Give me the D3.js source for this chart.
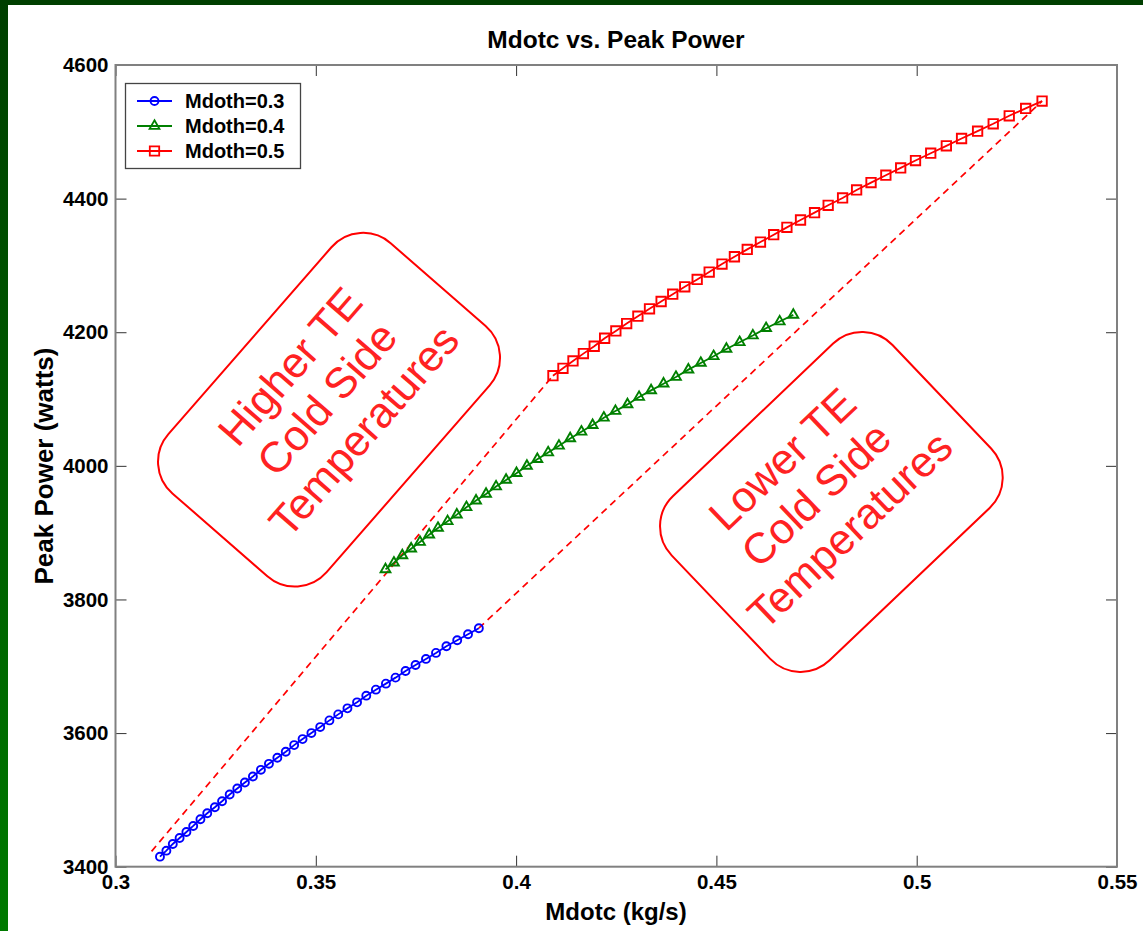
<!DOCTYPE html>
<html><head><meta charset="utf-8">
<script src="https://cdn.jsdelivr.net/npm/d3@7"></script>
<style>html,body{margin:0;padding:0;background:#fff;overflow:hidden;} svg{display:block;}</style>
</head><body>
<svg id="c" width="1143" height="931"></svg>
<script>
// ---------- data ----------
const seriesNames = ["Mdoth=0.3", "Mdoth=0.4", "Mdoth=0.5"];
const seriesColors = ["#0000ff", "#008000", "#ff0000"];

const mdotc03 = [0.3111,0.3127,0.3143,0.3160,0.3177,0.3194,0.3212,0.3229,0.3248,0.3266,0.3285,0.3304,0.3323,0.3343,0.3363,0.3383,0.3404,0.3425,0.3446,0.3467,0.3489,0.3511,0.3534,0.3556,0.3579,0.3603,0.3626,0.3650,0.3675,0.3699,0.3724,0.3749,0.3775,0.3800,0.3826,0.3853,0.3880,0.3907];
const power03 = [3415,3424,3434,3443,3452,3461,3471,3480,3489,3498,3508,3517,3526,3535,3545,3554,3563,3572,3582,3591,3600,3609,3619,3628,3637,3646,3656,3665,3674,3683,3693,3702,3711,3720,3730,3739,3748,3757];

const mdotc04 = [0.3674,0.3695,0.3716,0.3738,0.3760,0.3783,0.3805,0.3829,0.3852,0.3876,0.3900,0.3925,0.3950,0.3975,0.4001,0.4027,0.4053,0.4080,0.4107,0.4135,0.4163,0.4191,0.4219,0.4248,0.4278,0.4307,0.4337,0.4368,0.4399,0.4430,0.4461,0.4493,0.4525,0.4558,0.4591,0.4624,0.4658,0.4692];
const power04 = [3845,3855,3866,3876,3886,3897,3907,3917,3927,3938,3948,3958,3969,3979,3989,4000,4010,4020,4030,4041,4051,4061,4072,4082,4092,4103,4113,4123,4133,4144,4154,4164,4175,4185,4195,4206,4216,4226];

const mdotc05 = [0.4092,0.4117,0.4142,0.4168,0.4195,0.4221,0.4249,0.4276,0.4304,0.4333,0.4362,0.4391,0.4421,0.4452,0.4482,0.4514,0.4545,0.4577,0.4610,0.4643,0.4676,0.4710,0.4745,0.4779,0.4815,0.4850,0.4886,0.4923,0.4960,0.4997,0.5035,0.5074,0.5112,0.5152,0.5191,0.5231,0.5272,0.5313];
const power05 = [4135,4146,4157,4168,4179,4191,4202,4213,4224,4235,4246,4257,4268,4279,4290,4302,4313,4324,4335,4346,4357,4368,4379,4390,4401,4413,4424,4435,4446,4457,4468,4479,4490,4501,4512,4524,4535,4546];

// dashed boundary lines
const dashLeftX = [0.3090, 0.4092];
const dashLeftY = [3423, 4135];
const dashRightX = [0.3907, 0.5313];
const dashRightY = [3757, 4546];

const xTickVals = [0.3, 0.35, 0.4, 0.45, 0.5, 0.55];
const xTickLabels = ["0.3", "0.35", "0.4", "0.45", "0.5", "0.55"];
const yTickVals = [3400, 3600, 3800, 4000, 4200, 4400, 4600];
const yTickLabels = ["3400", "3600", "3800", "4000", "4200", "4400", "4600"];

const annLines = [["Higher TE", "Cold Side", "Temperatures"], ["Lower TE", "Cold Side", "Temperatures"]];
const annCenterX = [0.3533, 0.4787];
const annCenterY = [4084, 3946];

const titleText = "Mdotc vs. Peak Power";
const xLabelText = "Mdotc (kg/s)";
const yLabelText = "Peak Power (watts)";

// ---------- drawing ----------
const W = 1143, H = 931;
const svg = d3.select("#c");
const FONT = "Arial, 'Liberation Sans', Helvetica, sans-serif";

// background frame
const defs = svg.append("defs");
const grad = defs.append("linearGradient").attr("id", "gstrip").attr("x1", 0).attr("y1", 0).attr("x2", 0).attr("y2", 1);
grad.append("stop").attr("offset", "0%").attr("stop-color", "#003f00");
grad.append("stop").attr("offset", "100%").attr("stop-color", "#007a00");
svg.append("rect").attr("x", 0).attr("y", 0).attr("width", W).attr("height", H).attr("fill", "#ffffff");
svg.append("rect").attr("x", 0).attr("y", 0).attr("width", W).attr("height", 5).attr("fill", "#003f00");
svg.append("rect").attr("x", 0).attr("y", 0).attr("width", 8).attr("height", H).attr("fill", "url(#gstrip)");

const L = 115.5, R = 1117, T = 65, B = 866.7;
const x = d3.scaleLinear().domain([0.3, 0.55]).range([L, R]);
const y = d3.scaleLinear().domain([3400, 4600]).range([B, T]);

// axes (ticks inward on all four sides)
function styleAxis(g, showLabels) {
  g.select(".domain").remove();
  g.selectAll(".tick line").attr("stroke", "#333").attr("stroke-width", 1);
  g.selectAll(".tick text").attr("fill", "#000").attr("font-family", FONT)
    .attr("font-weight", "bold").attr("font-size", 20.5);
  if (!showLabels) g.selectAll(".tick text").remove();
}
const TS = 11;
svg.append("g").attr("transform", `translate(0,${B})`)
  .call(d3.axisBottom(x).tickValues(xTickVals).tickSize(-TS).tickPadding(8).tickFormat((d, i) => xTickLabels[i]))
  .call(g => styleAxis(g, true));
svg.append("g").attr("transform", `translate(0,${T})`)
  .call(d3.axisTop(x).tickValues(xTickVals).tickSize(-TS).tickFormat(""))
  .call(g => styleAxis(g, false));
svg.append("g").attr("transform", `translate(${L},0)`)
  .call(d3.axisLeft(y).tickValues(yTickVals).tickSize(-TS).tickPadding(7).tickFormat((d, i) => yTickLabels[i]))
  .call(g => styleAxis(g, true));
svg.append("g").attr("transform", `translate(${R},0)`)
  .call(d3.axisRight(y).tickValues(yTickVals).tickSize(-TS).tickFormat(""))
  .call(g => styleAxis(g, false));

// frame
svg.append("rect").attr("x", L).attr("y", T).attr("width", R - L).attr("height", B - T)
  .attr("fill", "none").attr("stroke", "#808080").attr("stroke-width", 2);

// annotations
annLines.forEach((lines, k) => {
  const cfg = k === 0 ? {w: 332, h: 210, rot: -48.9, tx: 7, ty: -9} : {w: 305, h: 227, rot: -43.6, tx: -6, ty: -16};
  const g = svg.append("g").attr("transform", `translate(${x(annCenterX[k])},${y(annCenterY[k])}) rotate(${cfg.rot})`);
  g.append("rect").attr("x", -cfg.w / 2).attr("y", -cfg.h / 2).attr("width", cfg.w).attr("height", cfg.h)
    .attr("rx", 42).attr("ry", 42).attr("fill", "none").attr("stroke", "#ff0000").attr("stroke-width", 2);
  g.selectAll("text.ann").data(lines).join("text").attr("class", "ann")
    .attr("x", cfg.tx).attr("y", (d, i) => cfg.ty + (i - 1) * 49)
    .attr("text-anchor", "middle").attr("dominant-baseline", "central")
    .attr("font-family", FONT).attr("font-size", 43).attr("fill", "#f22")
    .text(d => d);
});

// dashed lines
const line = d3.line().x(d => x(d[0])).y(d => y(d[1]));
[[dashLeftX, dashLeftY], [dashRightX, dashRightY]].forEach(([xs, ys]) => {
  svg.append("path").attr("d", line(xs.map((v, i) => [v, ys[i]])))
    .attr("fill", "none").attr("stroke", "#ff0000").attr("stroke-width", 1.7).attr("stroke-dasharray", "7,5");
});

// series
const series = [[mdotc03, power03], [mdotc04, power04], [mdotc05, power05]];
const symbols = [d3.symbol().type(d3.symbolCircle).size(50), d3.symbol().type(d3.symbolTriangle).size(42), d3.symbol().type(d3.symbolSquare).size(88)];
series.forEach(([xs, ys], k) => {
  const pts = xs.map((v, i) => [v, ys[i]]);
  svg.append("path").attr("d", line(pts)).attr("fill", "none")
    .attr("stroke", seriesColors[k]).attr("stroke-width", 1.8);
  svg.append("g").selectAll("path").data(pts).join("path")
    .attr("transform", d => `translate(${x(d[0])},${y(d[1])})`)
    .attr("d", symbols[k]()).attr("fill", "none").attr("stroke", seriesColors[k]).attr("stroke-width", 1.9);
});

// legend
const lg = svg.append("g");
lg.append("rect").attr("x", 125.5).attr("y", 83.5).attr("width", 175).attr("height", 85)
  .attr("fill", "#fff").attr("stroke", "#444").attr("stroke-width", 1.3);
seriesNames.forEach((name, k) => {
  const yy = 101 + k * 25;
  lg.append("line").attr("x1", 137).attr("x2", 172).attr("y1", yy).attr("y2", yy)
    .attr("stroke", seriesColors[k]).attr("stroke-width", 1.8);
  lg.append("path").attr("transform", `translate(154.5,${yy})`).attr("d", symbols[k]())
    .attr("fill", "none").attr("stroke", seriesColors[k]).attr("stroke-width", 1.8);
  lg.append("text").attr("x", 185).attr("y", yy).attr("dominant-baseline", "central")
    .attr("font-family", FONT).attr("font-weight", "bold").attr("font-size", 20).attr("fill", "#000").text(name);
});

// titles
svg.append("text").attr("x", 616).attr("y", 39).attr("text-anchor", "middle").attr("dominant-baseline", "central")
  .attr("font-family", FONT).attr("font-weight", "bold").attr("font-size", 24.5).text(titleText);
svg.append("text").attr("x", 616).attr("y", 911).attr("text-anchor", "middle").attr("dominant-baseline", "central")
  .attr("font-family", FONT).attr("font-weight", "bold").attr("font-size", 24).text(xLabelText);
svg.append("text").attr("transform", `translate(44,466) rotate(-90)`).attr("text-anchor", "middle").attr("dominant-baseline", "central")
  .attr("font-family", FONT).attr("font-weight", "bold").attr("font-size", 26).text(yLabelText);
</script>
</body></html>
